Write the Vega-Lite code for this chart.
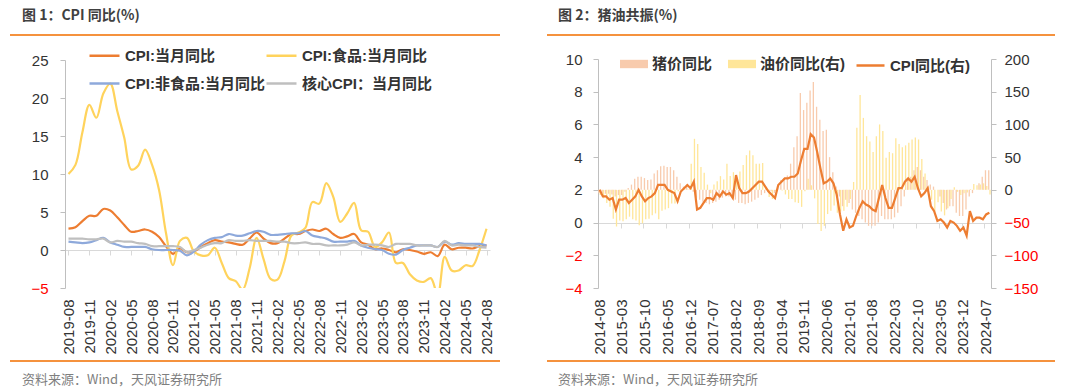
{
  "$schema": "https://vega.github.io/schema/vega-lite/v6.json",
  "background": "white",
  "padding": {"left": 10, "top": 9, "right": 0, "bottom": 0},
  "spacing": 47,
  "resolve": {"scale": {"color": "independent", "stroke": "independent"}, "legend": {"color": "independent", "stroke": "independent"}},
  "config": {
    "view": {"stroke": null},
    "font": "Noto Sans CJK SC",
    "axis": {"labelFont": "Liberation Sans", "labelFontSize": 15, "labelColor": "#333333", "domainColor": "#BFBFBF", "tickColor": "#BFBFBF", "grid": false, "tickSize": 5, "labelOverlap": false},
    "legend": {"labelFont": "Liberation Sans, Noto Sans CJK SC", "labelFontSize": 15, "labelFontWeight": "bold", "labelColor": "#333333", "padding": 0, "labelOffset": 4},
    "title": {"font": "Noto Sans CJK SC", "fontSize": 14, "fontWeight": "bold", "color": "#404040", "anchor": "start"}
  },
  "datasets": {
    "left": [
      {"m":"2019-08","cpi":2.8,"food":10.0,"nonfood":1.1,"core":1.5},
      {"m":"2019-09","cpi":3.0,"food":11.2,"nonfood":1.0,"core":1.5},
      {"m":"2019-10","cpi":3.8,"food":15.5,"nonfood":0.9,"core":1.5},
      {"m":"2019-11","cpi":4.5,"food":19.1,"nonfood":1.0,"core":1.4},
      {"m":"2019-12","cpi":4.5,"food":17.4,"nonfood":1.3,"core":1.4},
      {"m":"2020-01","cpi":5.4,"food":20.6,"nonfood":1.6,"core":1.5},
      {"m":"2020-02","cpi":5.2,"food":21.9,"nonfood":1.0,"core":1.0},
      {"m":"2020-03","cpi":4.3,"food":18.3,"nonfood":0.7,"core":1.2},
      {"m":"2020-04","cpi":3.3,"food":14.8,"nonfood":0.4,"core":1.1},
      {"m":"2020-05","cpi":2.4,"food":10.6,"nonfood":0.4,"core":1.1},
      {"m":"2020-06","cpi":2.5,"food":11.1,"nonfood":0.4,"core":0.9},
      {"m":"2020-07","cpi":2.7,"food":13.2,"nonfood":0.4,"core":0.8},
      {"m":"2020-08","cpi":2.4,"food":11.2,"nonfood":0.1,"core":0.5},
      {"m":"2020-09","cpi":1.7,"food":7.9,"nonfood":0.0,"core":0.5},
      {"m":"2020-10","cpi":0.5,"food":2.2,"nonfood":0.0,"core":0.5},
      {"m":"2020-11","cpi":-0.5,"food":-2.0,"nonfood":0.0,"core":0.5},
      {"m":"2020-12","cpi":0.2,"food":1.2,"nonfood":-0.1,"core":0.4},
      {"m":"2021-01","cpi":-0.3,"food":1.6,"nonfood":-0.7,"core":-0.3},
      {"m":"2021-02","cpi":-0.2,"food":-0.2,"nonfood":-0.2,"core":0.0},
      {"m":"2021-03","cpi":0.4,"food":-0.7,"nonfood":0.7,"core":0.3},
      {"m":"2021-04","cpi":0.9,"food":-0.7,"nonfood":1.3,"core":0.7},
      {"m":"2021-05","cpi":1.3,"food":0.3,"nonfood":1.6,"core":0.9},
      {"m":"2021-06","cpi":1.1,"food":-1.7,"nonfood":1.7,"core":0.9},
      {"m":"2021-07","cpi":1.0,"food":-3.7,"nonfood":2.1,"core":1.3},
      {"m":"2021-08","cpi":0.8,"food":-4.1,"nonfood":1.9,"core":1.2},
      {"m":"2021-09","cpi":0.7,"food":-5.2,"nonfood":1.9,"core":1.2},
      {"m":"2021-10","cpi":1.5,"food":-2.4,"nonfood":2.2,"core":1.3},
      {"m":"2021-11","cpi":2.3,"food":1.6,"nonfood":2.5,"core":1.2},
      {"m":"2021-12","cpi":1.5,"food":-1.2,"nonfood":2.4,"core":1.2},
      {"m":"2022-01","cpi":0.9,"food":-3.8,"nonfood":2.0,"core":1.2},
      {"m":"2022-02","cpi":0.9,"food":-3.9,"nonfood":2.0,"core":1.1},
      {"m":"2022-03","cpi":1.5,"food":-1.5,"nonfood":2.1,"core":1.1},
      {"m":"2022-04","cpi":2.1,"food":1.9,"nonfood":2.2,"core":0.9},
      {"m":"2022-05","cpi":2.1,"food":2.3,"nonfood":2.2,"core":0.9},
      {"m":"2022-06","cpi":2.5,"food":2.9,"nonfood":2.5,"core":1.0},
      {"m":"2022-07","cpi":2.7,"food":6.3,"nonfood":1.9,"core":0.8},
      {"m":"2022-08","cpi":2.5,"food":6.1,"nonfood":1.7,"core":0.8},
      {"m":"2022-09","cpi":2.8,"food":8.8,"nonfood":1.5,"core":0.6},
      {"m":"2022-10","cpi":2.1,"food":7.0,"nonfood":1.1,"core":0.6},
      {"m":"2022-11","cpi":1.6,"food":3.7,"nonfood":1.1,"core":0.6},
      {"m":"2022-12","cpi":1.8,"food":4.8,"nonfood":1.1,"core":0.7},
      {"m":"2023-01","cpi":2.1,"food":6.2,"nonfood":1.2,"core":1.0},
      {"m":"2023-02","cpi":1.0,"food":2.6,"nonfood":0.6,"core":0.6},
      {"m":"2023-03","cpi":0.7,"food":2.4,"nonfood":0.3,"core":0.7},
      {"m":"2023-04","cpi":0.1,"food":0.4,"nonfood":0.1,"core":0.7},
      {"m":"2023-05","cpi":0.2,"food":1.0,"nonfood":0.0,"core":0.6},
      {"m":"2023-06","cpi":0.0,"food":2.3,"nonfood":-0.5,"core":0.4},
      {"m":"2023-07","cpi":-0.3,"food":-1.7,"nonfood":-0.6,"core":0.8},
      {"m":"2023-08","cpi":0.1,"food":-1.7,"nonfood":0.0,"core":0.8},
      {"m":"2023-09","cpi":0.0,"food":-3.2,"nonfood":0.3,"core":0.8},
      {"m":"2023-10","cpi":-0.2,"food":-4.0,"nonfood":0.6,"core":0.6},
      {"m":"2023-11","cpi":-0.5,"food":-4.2,"nonfood":0.6,"core":0.6},
      {"m":"2023-12","cpi":-0.3,"food":-3.7,"nonfood":0.6,"core":0.6},
      {"m":"2024-01","cpi":-0.8,"food":-5.9,"nonfood":0.4,"core":0.4},
      {"m":"2024-02","cpi":0.7,"food":-0.9,"nonfood":1.1,"core":1.2},
      {"m":"2024-03","cpi":0.1,"food":-2.7,"nonfood":0.7,"core":0.6},
      {"m":"2024-04","cpi":0.3,"food":-2.7,"nonfood":0.9,"core":0.7},
      {"m":"2024-05","cpi":0.3,"food":-2.0,"nonfood":0.8,"core":0.6},
      {"m":"2024-06","cpi":0.2,"food":-2.1,"nonfood":0.8,"core":0.6},
      {"m":"2024-07","cpi":0.5,"food":0.0,"nonfood":0.8,"core":0.4},
      {"m":"2024-08","cpi":0.6,"food":2.8,"nonfood":0.6,"core":0.3}
    ],
    "right": [
      {"m":"2014-08","cpi":2.0,"pig":-5,"oil":-8},
      {"m":"2014-09","cpi":1.6,"pig":-5,"oil":-13},
      {"m":"2014-10","cpi":1.6,"pig":-6,"oil":-20},
      {"m":"2014-11","cpi":1.4,"pig":-6,"oil":-26},
      {"m":"2014-12","cpi":1.5,"pig":-7,"oil":-44},
      {"m":"2015-01","cpi":0.8,"pig":-10,"oil":-56},
      {"m":"2015-02","cpi":1.4,"pig":-8,"oil":-47},
      {"m":"2015-03","cpi":1.4,"pig":-8,"oil":-48},
      {"m":"2015-04","cpi":1.5,"pig":-3,"oil":-45},
      {"m":"2015-05","cpi":1.2,"pig":3,"oil":-41},
      {"m":"2015-06","cpi":1.4,"pig":8,"oil":-45},
      {"m":"2015-07","cpi":1.6,"pig":17,"oil":-47},
      {"m":"2015-08","cpi":2.0,"pig":20,"oil":-54},
      {"m":"2015-09","cpi":1.6,"pig":20,"oil":-51},
      {"m":"2015-10","cpi":1.3,"pig":18,"oil":-45},
      {"m":"2015-11","cpi":1.5,"pig":15,"oil":-44},
      {"m":"2015-12","cpi":1.6,"pig":16,"oil":-39},
      {"m":"2016-01","cpi":1.8,"pig":25,"oil":-36},
      {"m":"2016-02","cpi":2.3,"pig":30,"oil":-45},
      {"m":"2016-03","cpi":2.3,"pig":36,"oil":-32},
      {"m":"2016-04","cpi":2.3,"pig":37,"oil":-30},
      {"m":"2016-05","cpi":2.0,"pig":35,"oil":-28},
      {"m":"2016-06","cpi":1.9,"pig":35,"oil":-21},
      {"m":"2016-07","cpi":1.8,"pig":30,"oil":-21},
      {"m":"2016-08","cpi":1.3,"pig":20,"oil":-2},
      {"m":"2016-09","cpi":1.9,"pig":10,"oil":-2},
      {"m":"2016-10","cpi":2.1,"pig":5,"oil":2},
      {"m":"2016-11","cpi":2.3,"pig":6,"oil":1},
      {"m":"2016-12","cpi":2.1,"pig":2,"oil":40},
      {"m":"2017-01","cpi":2.5,"pig":-3,"oil":78},
      {"m":"2017-02","cpi":0.8,"pig":-12,"oil":70},
      {"m":"2017-03","cpi":0.9,"pig":-15,"oil":35},
      {"m":"2017-04","cpi":1.2,"pig":-18,"oil":26},
      {"m":"2017-05","cpi":1.5,"pig":-20,"oil":8},
      {"m":"2017-06","cpi":1.5,"pig":-22,"oil":-5},
      {"m":"2017-07","cpi":1.4,"pig":-20,"oil":8},
      {"m":"2017-08","cpi":1.8,"pig":-18,"oil":13},
      {"m":"2017-09","cpi":1.6,"pig":-15,"oil":21},
      {"m":"2017-10","cpi":1.9,"pig":-12,"oil":16},
      {"m":"2017-11","cpi":1.7,"pig":-10,"oil":40},
      {"m":"2017-12","cpi":1.8,"pig":-10,"oil":21},
      {"m":"2018-01","cpi":1.5,"pig":-8,"oil":27},
      {"m":"2018-02","cpi":2.9,"pig":-15,"oil":19},
      {"m":"2018-03","cpi":2.1,"pig":-20,"oil":28},
      {"m":"2018-04","cpi":1.8,"pig":-20,"oil":38},
      {"m":"2018-05","cpi":1.8,"pig":-22,"oil":53},
      {"m":"2018-06","cpi":1.9,"pig":-20,"oil":60},
      {"m":"2018-07","cpi":2.1,"pig":-18,"oil":53},
      {"m":"2018-08","cpi":2.3,"pig":-15,"oil":40},
      {"m":"2018-09","cpi":2.5,"pig":-12,"oil":40},
      {"m":"2018-10","cpi":2.5,"pig":-8,"oil":41},
      {"m":"2018-11","cpi":2.2,"pig":-5,"oil":3},
      {"m":"2018-12","cpi":1.9,"pig":-3,"oil":-11},
      {"m":"2019-01","cpi":1.7,"pig":-2,"oil":-14},
      {"m":"2019-02","cpi":1.5,"pig":-5,"oil":-2},
      {"m":"2019-03","cpi":2.3,"pig":5,"oil":0},
      {"m":"2019-04","cpi":2.5,"pig":15,"oil":-1},
      {"m":"2019-05","cpi":2.7,"pig":18,"oil":-7},
      {"m":"2019-06","cpi":2.7,"pig":22,"oil":-14},
      {"m":"2019-07","cpi":2.8,"pig":40,"oil":-14},
      {"m":"2019-08","cpi":2.8,"pig":65,"oil":-19},
      {"m":"2019-09","cpi":3.0,"pig":82,"oil":-20},
      {"m":"2019-10","cpi":3.8,"pig":148,"oil":-26},
      {"m":"2019-11","cpi":4.5,"pig":122,"oil":-2},
      {"m":"2019-12","cpi":4.5,"pig":133,"oil":17},
      {"m":"2020-01","cpi":5.4,"pig":152,"oil":7},
      {"m":"2020-02","cpi":5.2,"pig":165,"oil":-13},
      {"m":"2020-03","cpi":4.3,"pig":127,"oil":-52},
      {"m":"2020-04","cpi":3.3,"pig":107,"oil":-63},
      {"m":"2020-05","cpi":2.4,"pig":90,"oil":-55},
      {"m":"2020-06","cpi":2.5,"pig":92,"oil":-37},
      {"m":"2020-07","cpi":2.7,"pig":50,"oil":-32},
      {"m":"2020-08","cpi":2.4,"pig":27,"oil":-24},
      {"m":"2020-09","cpi":1.7,"pig":5,"oil":-35},
      {"m":"2020-10","cpi":0.5,"pig":-10,"oil":-33},
      {"m":"2020-11","cpi":-0.5,"pig":-25,"oil":-32},
      {"m":"2020-12","cpi":0.2,"pig":-15,"oil":-26},
      {"m":"2021-01","cpi":-0.3,"pig":-20,"oil":-14},
      {"m":"2021-02","cpi":-0.2,"pig":-30,"oil":12},
      {"m":"2021-03","cpi":0.4,"pig":-35,"oil":95},
      {"m":"2021-04","cpi":0.9,"pig":-40,"oil":145},
      {"m":"2021-05","cpi":1.3,"pig":-45,"oil":110},
      {"m":"2021-06","cpi":1.1,"pig":-50,"oil":82},
      {"m":"2021-07","cpi":1.0,"pig":-55,"oil":74},
      {"m":"2021-08","cpi":0.8,"pig":-55,"oil":58},
      {"m":"2021-09","cpi":0.7,"pig":-55,"oil":82},
      {"m":"2021-10","cpi":1.5,"pig":-50,"oil":100},
      {"m":"2021-11","cpi":2.3,"pig":-40,"oil":90},
      {"m":"2021-12","cpi":1.5,"pig":-45,"oil":49},
      {"m":"2022-01","cpi":0.9,"pig":-45,"oil":58},
      {"m":"2022-02","cpi":0.9,"pig":-45,"oil":56},
      {"m":"2022-03","cpi":1.5,"pig":-42,"oil":79},
      {"m":"2022-04","cpi":2.1,"pig":-35,"oil":70},
      {"m":"2022-05","cpi":2.1,"pig":-25,"oil":65},
      {"m":"2022-06","cpi":2.5,"pig":-10,"oil":68},
      {"m":"2022-07","cpi":2.7,"pig":15,"oil":72},
      {"m":"2022-08","cpi":2.5,"pig":20,"oil":77},
      {"m":"2022-09","cpi":2.8,"pig":30,"oil":80},
      {"m":"2022-10","cpi":2.1,"pig":35,"oil":77},
      {"m":"2022-11","cpi":1.6,"pig":30,"oil":47},
      {"m":"2022-12","cpi":1.8,"pig":20,"oil":25},
      {"m":"2023-01","cpi":2.1,"pig":15,"oil":5},
      {"m":"2023-02","cpi":1.0,"pig":8,"oil":-15},
      {"m":"2023-03","cpi":0.7,"pig":5,"oil":-33},
      {"m":"2023-04","cpi":0.1,"pig":0,"oil":-19},
      {"m":"2023-05","cpi":0.2,"pig":-10,"oil":-33},
      {"m":"2023-06","cpi":0.0,"pig":-20,"oil":-39},
      {"m":"2023-07","cpi":-0.3,"pig":-30,"oil":-28},
      {"m":"2023-08","cpi":0.1,"pig":-25,"oil":-14},
      {"m":"2023-09","cpi":0.0,"pig":-25,"oil":4},
      {"m":"2023-10","cpi":-0.2,"pig":-35,"oil":-3},
      {"m":"2023-11","cpi":-0.5,"pig":-40,"oil":-8},
      {"m":"2023-12","cpi":-0.3,"pig":-40,"oil":-5},
      {"m":"2024-01","cpi":-0.8,"pig":-30,"oil":-4},
      {"m":"2024-02","cpi":0.7,"pig":-10,"oil":1},
      {"m":"2024-03","cpi":0.1,"pig":-5,"oil":9},
      {"m":"2024-04","cpi":0.3,"pig":0,"oil":7},
      {"m":"2024-05","cpi":0.3,"pig":10,"oil":8},
      {"m":"2024-06","cpi":0.2,"pig":20,"oil":10},
      {"m":"2024-07","cpi":0.5,"pig":30,"oil":6},
      {"m":"2024-08","cpi":0.6,"pig":30,"oil":-7}
    ]
  },
  "hconcat": [
    {
      "spacing": 13,
      "vconcat": [
        {
          "width": 490, "height": 2,
          "view": {"fill": "#F5923E", "stroke": null},
          "title": {"text": "图 1：CPI 同比(%)", "dx": 12, "offset": -5, "baseline": "alphabetic"},
          "data": {"values": [{}]},
          "mark": {"type": "text", "text": ""},
          "encoding": {}
        },
        {
          "spacing": 0,
          "vconcat": [
            {
              "width": 480, "height": 228,
              "data": {"name": "left"},
              "transform": [{"fold": ["cpi", "food", "nonfood", "core"], "as": ["k", "v"]}],
              "layer": [
                {
                  "mark": {"type": "line", "interpolate": "catmull-rom", "strokeWidth": 2.2, "clip": true},
                  "encoding": {
                    "x": {"field": "m", "type": "ordinal", "scale": {"paddingInner": 0, "paddingOuter": 0, "range": [55, 480]},
                      "axis": {"orient": "bottom", "title": null, "domain": false, "ticks": false, "labelAngle": 270, "labelPadding": 11,
                        "values": ["2019-08","2019-11","2020-02","2020-05","2020-08","2020-11","2021-02","2021-05","2021-08","2021-11","2022-02","2022-05","2022-08","2022-11","2023-02","2023-05","2023-08","2023-11","2024-02","2024-05","2024-08"]}},
                    "y": {"field": "v", "type": "quantitative", "scale": {"domain": [-5, 25], "nice": false},
                      "axis": {"title": null, "offset": -55, "values": [-5, 0, 5, 10, 15, 20, 25], "labelPadding": 12, "minExtent": 0, "labelOverlap": false,
                        "labelColor": {"condition": {"test": "datum.value < 0", "value": "#FF0000"}, "value": "#333333"}}},
                    "color": {"field": "k", "type": "nominal",
                      "scale": {"domain": ["cpi", "nonfood", "food", "core"], "range": ["#ED7D31", "#8EA9DB", "#FFD35C", "#BFBFBF"]},
                      "legend": {"orient": "none", "legendX": 78, "legendY": 5, "columns": 2, "title": null,
                        "symbolType": "stroke", "symbolSize": 900, "symbolStrokeWidth": 2.5, "columnPadding": -10, "rowPadding": 3,
                        "labelExpr": "{'cpi':'CPI:当月同比','food':'CPI:食品:当月同比','nonfood':'CPI:非食品:当月同比','core':'核心CPI：当月同比'}[datum.label]"}}
                  }
                },
                {
                  "mark": {"type": "point", "opacity": 0},
                  "encoding": {
                    "x": {"field": "m", "type": "ordinal",
                      "axis": {"orient": "bottom", "offset": -38, "title": null, "labels": false, "domain": true, "ticks": true, "bandPosition": 0,
                        "domainColor": "#D9D9D9", "tickColor": "#D9D9D9",
                        "values": ["2019-08","2019-11","2020-02","2020-05","2020-08","2020-11","2021-02","2021-05","2021-08","2021-11","2022-02","2022-05","2022-08","2022-11","2023-02","2023-05","2023-08","2023-11","2024-02","2024-05","2024-08"]}},
                    "y": {"datum": 0, "type": "quantitative",
                      "axis": {"title": null, "offset": -55, "values": [-5, 0, 5, 10, 15, 20, 25], "labelPadding": 12, "minExtent": 0, "labelOverlap": false,
                        "labelColor": {"condition": {"test": "datum.value < 0", "value": "#FF0000"}, "value": "#333333"}}}
                  }
                }
              ],
              "resolve": {"axis": {"x": "independent"}}
            },
            {
              "width": 490, "height": 2,
              "view": {"fill": "#F5923E", "stroke": null},
              "title": {"text": "资料来源：Wind，天风证券研究所", "orient": "bottom", "dx": 12, "offset": 8, "baseline": "top", "fontSize": 13, "fontWeight": "normal", "color": "#7F7F7F"},
              "data": {"values": [{}]},
              "mark": {"type": "text", "text": ""},
              "encoding": {}
            }
          ]
        }
      ]
    },
    {
      "spacing": 12,
      "vconcat": [
        {
          "width": 508, "height": 2,
          "view": {"fill": "#F5923E", "stroke": null},
          "title": {"text": "图 2：猪油共振(%)", "dx": 11, "offset": -5, "baseline": "alphabetic"},
          "data": {"values": [{}]},
          "mark": {"type": "text", "text": ""},
          "encoding": {}
        },
        {
          "spacing": 0,
          "vconcat": [
            {
              "width": 444, "height": 229,
              "data": {"name": "right"},
              "layer": [
                {
                  "transform": [{"fold": ["pig", "oil"], "as": ["k", "v"]}],
                  "mark": {"type": "bar"},
                  "encoding": {
                    "x": {"field": "m", "type": "ordinal", "scale": {"paddingInner": 0.2, "paddingOuter": 0.1, "range": [51, 444]},
                      "axis": {"orient": "bottom", "title": null, "domain": false, "ticks": false, "labelAngle": 270, "labelPadding": 11,
                        "values": ["2014-08","2015-03","2015-10","2016-05","2016-12","2017-07","2018-02","2018-09","2019-04","2019-11","2020-06","2021-01","2021-08","2022-03","2022-10","2023-05","2023-12","2024-07"]}},
                    "xOffset": {"field": "k", "type": "nominal", "scale": {"domain": ["pig", "oil"]}},
                    "y": {"field": "v", "type": "quantitative", "scale": {"domain": [-150, 200], "nice": false},
                      "axis": {"orient": "right", "title": null, "values": [-150, -100, -50, 0, 50, 100, 150, 200], "labelPadding": 8,
                        "labelColor": {"condition": {"test": "datum.value < 0", "value": "#FF0000"}, "value": "#333333"}}},
                    "color": {"field": "k", "type": "nominal",
                      "scale": {"domain": ["pig", "oil"], "range": ["#F8CBAD", "#FFE699"]},
                      "legend": {"orient": "none", "legendX": 73, "legendY": 16, "direction": "horizontal", "title": null,
                        "symbolType": "M-1,-0.3L1,-0.3L1,0.3L-1,0.3Z", "symbolSize": 784, "symbolStrokeWidth": 0, "columnPadding": 15,
                        "labelExpr": "{'pig':'猪价同比','oil':'油价同比(右)'}[datum.label]"}}
                  }
                },
                {
                  "mark": {"type": "line", "strokeWidth": 2.2},
                  "encoding": {
                    "x": {"field": "m", "type": "ordinal",
                      "axis": {"orient": "bottom", "offset": -65, "title": null, "labels": false, "domain": true, "ticks": true, "bandPosition": 0,
                        "domainColor": "#D9D9D9", "tickColor": "#D9D9D9",
                        "values": ["2014-08","2015-03","2015-10","2016-05","2016-12","2017-07","2018-02","2018-09","2019-04","2019-11","2020-06","2021-01","2021-08","2022-03","2022-10","2023-05","2023-12","2024-07"]}},
                    "y": {"field": "cpi", "type": "quantitative", "scale": {"domain": [-4, 10], "nice": false},
                      "axis": {"orient": "left", "title": null, "offset": -51, "values": [-4, -2, 0, 2, 4, 6, 8, 10], "labelPadding": 11, "minExtent": 0,
                        "labelColor": {"condition": {"test": "datum.value < 0", "value": "#FF0000"}, "value": "#333333"}}},
                    "stroke": {"datum": "CPI同比(右)", "scale": {"range": ["#ED7D31"]},
                      "legend": {"orient": "none", "legendX": 308, "legendY": 16, "title": null,
                        "symbolType": "stroke", "symbolSize": 784, "symbolStrokeWidth": 2.5}}
                  }
                }
              ],
              "resolve": {"scale": {"y": "independent"}, "axis": {"x": "independent", "y": "independent"}}
            },
            {
              "width": 508, "height": 2,
              "view": {"fill": "#F5923E", "stroke": null},
              "title": {"text": "资料来源：Wind，天风证券研究所", "orient": "bottom", "dx": 11, "offset": 8, "baseline": "top", "fontSize": 13, "fontWeight": "normal", "color": "#7F7F7F"},
              "data": {"values": [{}]},
              "mark": {"type": "text", "text": ""},
              "encoding": {}
            }
          ]
        }
      ]
    }
  ]
}
